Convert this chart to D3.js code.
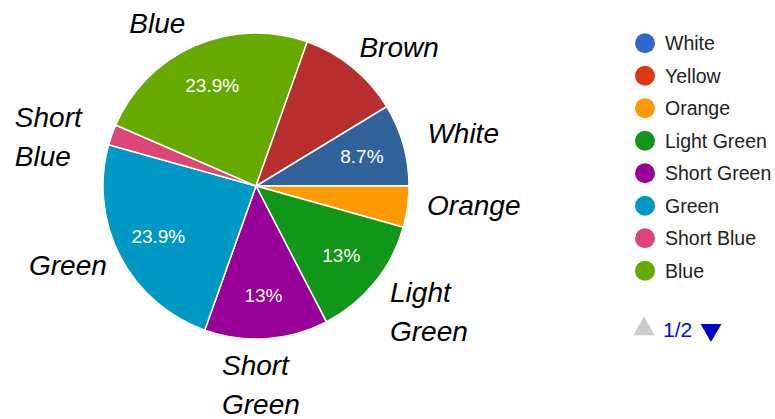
<!DOCTYPE html>
<html>
<head>
<meta charset="utf-8">
<script src="https://cdn.jsdelivr.net/npm/d3@7"></script>
<style>
  body { margin: 0; background: #fff; }
  svg { display: block; font-family: Arial, "Liberation Sans", sans-serif; }
</style>
</head>
<body>
<svg width="775" height="419"></svg>
<script>
// data, in legend order (Brown sits on legend page 2)
var names = ["White", "Yellow", "Orange", "Light Green", "Short Green", "Green", "Short Blue", "Blue", "Brown"];
var counts = [4, 0, 2, 6, 6, 11, 1, 11, 5];
var sliceColors = ["#32629a", "#dc3912", "#ff9900", "#109618", "#990099", "#0099c6", "#dd4477", "#66aa00", "#b82e2e"];
var legendColors = ["#3366cc", "#dc3912", "#ff9900", "#109618", "#990099", "#0099c6", "#dd4477", "#66aa00", "#b82e2e"];
var showPercent = [true, false, false, true, true, true, false, true, false];
var sliceLabels = [["White"], ["Yellow"], ["Orange"], ["Light", "Green"], ["Short", "Green"], ["Green"], ["Short", "Blue"], ["Blue"], ["Brown"]];
var legendPageSize = 8;
var pageText = "1/2";

// layout
var cx = 256, cy = 186, radius = 153;
var startDeg = 58.7;
var labelRadius = 205, lineGap = 39;
var labelNudge = {
    "White": [-26, 12], "Orange": [-32, 1], "Light Green": [-25, -13], "Short Green": [-48, -16],
    "Green": [-45, -5], "Short Blue": [-48, 10], "Blue": [-45, 35], "Brown": [-26, 30]
};

var svg = d3.select("svg");
var total = d3.sum(counts);
var fmtPct = d3.format(".3~r");

var rows = names.map(function (n, i) {
    return { name: n, value: counts[i], color: sliceColors[i], legendColor: legendColors[i], showPct: showPercent[i], lines: sliceLabels[i] };
});

var start = startDeg * Math.PI / 180;
var pie = d3.pie().sort(null).value(function (d) { return d.value; })
    .startAngle(start).endAngle(start + 2 * Math.PI);
var arcs = pie(rows).filter(function (a) { return a.value > 0; });

var arc = d3.arc().innerRadius(0).outerRadius(radius);
var pctArc = d3.arc().innerRadius(110).outerRadius(110);
var labelArc = d3.arc().innerRadius(labelRadius).outerRadius(labelRadius);

var g = svg.append("g").attr("transform", "translate(" + cx + "," + cy + ")");

g.selectAll(".slice")
    .data(arcs)
    .enter().append("path")
    .attr("class", "slice")
    .attr("d", arc)
    .attr("fill", function (d) { return d.data.color; })
    .attr("stroke", "#fff")
    .attr("stroke-width", 1.5);

g.selectAll(".pct")
    .data(arcs.filter(function (d) { return d.data.showPct; }))
    .enter().append("text")
    .attr("class", "pct")
    .attr("transform", function (d) { return "translate(" + pctArc.centroid(d) + ")"; })
    .attr("text-anchor", "middle")
    .attr("dy", "0.35em")
    .attr("fill", "#fff")
    .style("font-size", "19px")
    .text(function (d) { return fmtPct(d.value / total * 100) + "%"; });

var labels = g.selectAll(".slice-label")
    .data(arcs)
    .enter().append("text")
    .attr("class", "slice-label")
    .attr("transform", function (d) {
        var c = labelArc.centroid(d), n = labelNudge[d.data.name] || [0, 0];
        return "translate(" + (c[0] + n[0]) + "," + (c[1] + n[1]) + ")";
    })
    .attr("fill", "#000")
    .style("font-size", "28px")
    .style("font-style", "italic");

labels.selectAll("tspan")
    .data(function (d) { return d.data.lines; })
    .enter().append("tspan")
    .attr("x", 0)
    .attr("y", function (d, i) { return i * lineGap; })
    .text(function (d) { return d; });

// legend, first page
var page = rows.slice(0, legendPageSize);
var ly = d3.scaleBand().domain(page.map(function (d) { return d.name; })).range([27, 287]);

var legend = svg.append("g").attr("transform", "translate(645,0)");
var item = legend.selectAll(".item")
    .data(page)
    .enter().append("g")
    .attr("class", "item")
    .attr("transform", function (d) { return "translate(0," + (ly(d.name) + ly.bandwidth() / 2) + ")"; });

item.append("circle")
    .attr("r", 10)
    .attr("fill", function (d) { return d.legendColor; });

item.append("text")
    .attr("x", 20)
    .attr("dy", "0.36em")
    .attr("fill", "#222")
    .style("font-size", "19.5px")
    .text(function (d) { return d.name; });

// pager
var pager = svg.append("g").attr("transform", "translate(644,329)");
pager.append("path")
    .attr("d", d3.symbol().type(d3.symbolTriangle).size(200))
    .attr("fill", "#cccccc");
pager.append("text")
    .attr("x", 19)
    .attr("dy", "0.36em")
    .attr("fill", "#0011cc")
    .style("font-size", "21px")
    .text(pageText);
pager.append("path")
    .attr("transform", "translate(67,1) rotate(180)")
    .attr("d", d3.symbol().type(d3.symbolTriangle).size(190))
    .attr("fill", "#0000cc");
</script>
</body>
</html>
